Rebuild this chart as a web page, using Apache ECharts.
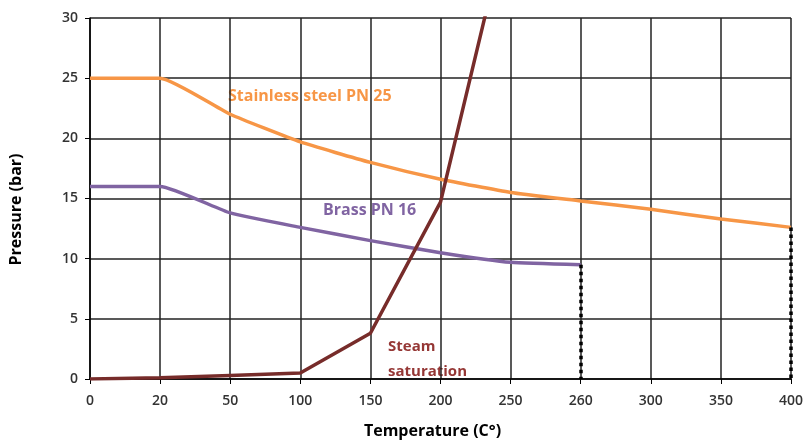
<!DOCTYPE html>
<html><head><meta charset="utf-8">
<script src="https://cdn.jsdelivr.net/npm/echarts@6/dist/echarts.min.js"></script>
<style>html,body{margin:0;padding:0;background:#fff}#c{width:806px;height:444px}</style>
</head><body><div id="c"></div>
<script>
const temperatures = ['0','20','50','100','150','200','250','260','300','350','400'];
const stainless = [25, 25, 22, 19.7, 18, 16.6, 15.5, 14.8, 14.1, 13.3, 12.6];
const brass = [16, 16, 13.8, 12.6, 11.5, 10.5, 9.7, 9.5, null, null, null];
const steam = [0, 0.1, 0.3, 0.5, 3.8, 14.7, 39, null, null, null, null];
const yTicks = [0, 5, 10, 15, 20, 25, 30];

const font = '"Open Sans", Lato, sans-serif';
const chart = echarts.init(document.getElementById('c'), null, {renderer: 'canvas'});
chart.setOption({
  animation: false,
  grid: {left: 88, right: 15, top: 18, bottom: 64},
  xAxis: {
    type: 'category', data: temperatures, boundaryGap: false,
    name: 'Temperature (C°)', nameLocation: 'middle', nameGap: 44,
    nameTextStyle: {fontFamily: font, fontWeight: 'bold', fontSize: 16, color: '#000', padding: [0, 16, 0, 0]},
    axisLine: {lineStyle: {color: '#000', width: 1.5}},
    axisTick: {show: true, length: 5, lineStyle: {color: '#000'}},
    axisLabel: {fontFamily: font, fontWeight: 600, fontSize: 14, color: '#333', margin: 15},
    splitLine: {show: true, lineStyle: {color: '#222', width: 1.5}}
  },
  yAxis: {
    type: 'value', min: yTicks[0], max: yTicks[yTicks.length-1], interval: 5,
    name: 'Pressure (bar)', nameLocation: 'middle', nameGap: 66, nameRotate: 90,
    nameTextStyle: {fontFamily: font, fontWeight: 'bold', fontSize: 16, color: '#000', padding: [0, 22, 0, 0]},
    axisLine: {show: true, lineStyle: {color: '#000', width: 1.5}},
    axisTick: {show: true, length: 5, lineStyle: {color: '#000'}},
    axisLabel: {fontFamily: font, fontWeight: 600, fontSize: 14, color: '#333', margin: 12},
    splitLine: {show: true, lineStyle: {color: '#222', width: 1.5}}
  },
  series: [
    {type: 'line', name: 'Stainless steel PN 25', data: stainless, symbol: 'none', smooth: 0.15,
     lineStyle: {color: '#F79646', width: 3.5},
     markLine: {symbol: 'none', silent: true, label: {show: false},
       lineStyle: {color: '#000', type: 'dotted', width: 3.5},
       data: [[{coord: ['400', stainless[10]]}, {coord: ['400', 0]}]]}},
    {type: 'line', name: 'Brass PN 16', data: brass, symbol: 'none', smooth: 0.15,
     lineStyle: {color: '#8064A2', width: 3.5},
     markLine: {symbol: 'none', silent: true, label: {show: false},
       lineStyle: {color: '#000', type: 'dotted', width: 3.5},
       data: [[{coord: ['260', brass[7]]}, {coord: ['260', 0]}]]}},
    {type: 'line', name: 'Steam saturation', data: steam, symbol: 'none', clip: true,
     lineStyle: {color: '#772C2A', width: 3.5}}
  ],
  graphic: [
    {type: 'text', left: 228, top: 88, style: {text: 'Stainless steel PN 25', fill: '#F79646', font: 'bold 16px ' + font}},
    {type: 'text', left: 323, top: 202, style: {text: 'Brass PN 16', fill: '#8064A2', font: 'bold 16px ' + font}},
    {type: 'text', left: 388, top: 334, style: {text: 'Steam\nsaturation', fill: '#953735', font: 'bold 15px ' + font, lineHeight: 25}}
  ]
});
</script></body></html>
